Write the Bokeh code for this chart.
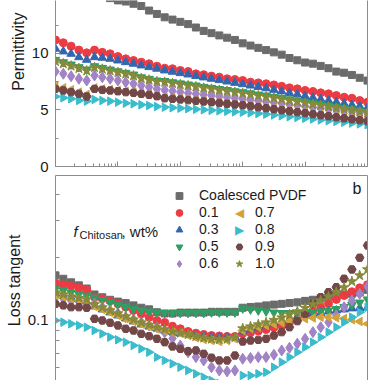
import numpy as np
from bokeh.plotting import figure
from bokeh.layouts import column
from bokeh.models import (FixedTicker, LinearAxis, LogAxis, Legend, LegendItem,
                          Label, Title, PrintfTickFormatter)
from bokeh.embed import file_html
from bokeh.resources import INLINE

FONT = "Liberation Sans"

# ---------------- data ----------------
freq_hz = [1.000e2, 1.334e2, 1.778e2, 2.371e2, 3.162e2, 4.217e2, 5.623e2, 7.499e2,
           1.000e3, 1.334e3, 1.778e3, 2.371e3, 3.162e3, 4.217e3, 5.623e3, 7.499e3,
           1.000e4, 1.334e4, 1.778e4, 2.371e4, 3.162e4, 4.217e4, 5.623e4, 7.499e4,
           1.000e5, 1.334e5, 1.778e5, 2.371e5, 3.162e5, 4.217e5, 5.623e5, 7.499e5,
           1.000e6, 1.334e6, 1.778e6, 2.371e6, 3.162e6, 4.217e6, 5.623e6, 7.499e6,
           1.000e7]

series_names = ["Coalesced PVDF", "0.1", "0.3", "0.5", "0.6", "0.7", "0.8", "0.9", "1.0"]

# permittivity (top panel)
eps_pvdf = [17.5, 17.0, 16.6, 16.2, 15.8, 15.5, 15.2, 14.9, 14.7, 14.6, 14.4, 14.2, 13.8, 13.5,
            13.2, 13.0, 12.8, 12.6, 12.3, 12.0, 11.8, 11.6, 11.4, 11.2, 10.9, 10.7, 10.5, 10.3,
            10.1, 9.9, 9.6, 9.4, 9.2, 9.1, 8.9, 8.7, 8.4, 8.3, 8.1, 7.85, 7.6]
eps_01 = [11.2, 10.95, 10.65, 10.3, 10.06, 10.3, 10.1, 9.97, 9.73, 9.53, 9.38, 9.23, 9.09, 8.88,
          8.7, 8.65, 8.5, 8.41, 8.2, 8.12, 8.0, 7.9, 7.76, 7.7, 7.61, 7.46, 7.4, 7.32, 7.22,
          7.1, 6.96, 6.87, 6.73, 6.64, 6.52, 6.43, 6.28, 6.13, 6.04, 5.84, 5.69]
eps_03 = [10.42, 10.18, 9.97, 9.67, 9.44, 9.67, 9.62, 9.53, 9.38, 9.23, 9.09, 8.94, 8.79, 8.65,
          8.5, 8.38, 8.26, 8.14, 8.0, 7.88, 7.76, 7.64, 7.52, 7.4, 7.28, 7.16, 7.04, 6.92,
          6.78, 6.64, 6.5, 6.37, 6.23, 6.09, 5.95, 5.83, 5.7, 5.57, 5.45, 5.33, 5.2]
eps_05 = [9.44, 9.23, 9.03, 8.79, 8.58, 8.88, 8.73, 8.58, 8.43, 8.29, 8.14, 7.9, 7.76, 7.61,
          7.57, 7.46, 7.36, 7.26, 7.17, 7.05, 6.96, 6.86, 6.77, 6.66, 6.58, 6.48, 6.37, 6.28,
          6.17, 6.06, 5.95, 5.84, 5.73, 5.62, 5.51, 5.4, 5.28, 5.18, 5.06, 4.96, 4.84]
eps_06 = [8.41, 8.21, 7.99, 7.76, 7.61, 8.05, 7.9, 7.76, 7.61, 7.46, 7.32, 7.17, 7.02, 6.87,
          6.77, 6.68, 6.59, 6.5, 6.43, 6.35, 6.28, 6.19, 6.11, 6.03, 5.96, 5.88, 5.81, 5.73,
          5.66, 5.58, 5.49, 5.4, 5.33, 5.25, 5.18, 5.11, 5.03, 4.96, 4.87, 4.78, 4.69]
eps_07 = [7.17, 6.96, 6.79, 6.58, 6.37, 6.95, 6.86, 6.81, 6.74, 6.66, 6.6, 6.51, 6.42, 6.3,
          6.12, 6.07, 6.01, 5.95, 5.89, 5.83, 5.77, 5.7, 5.63, 5.57, 5.5, 5.42, 5.33, 5.24,
          5.15, 5.06, 4.97, 4.89, 4.8, 4.71, 4.62, 4.53, 4.44, 4.35, 4.27, 4.18, 4.09]
eps_08 = [6.19, 6.08, 5.99, 5.84, 5.78, 5.93, 5.84, 5.78, 5.69, 5.6, 5.55, 5.46, 5.4, 5.31,
          5.25, 5.2, 5.16, 5.12, 5.06, 5.02, 4.97, 4.93, 4.88, 4.84, 4.8, 4.75, 4.69, 4.63,
          4.56, 4.49, 4.41, 4.34, 4.27, 4.2, 4.12, 4.05, 3.98, 3.91, 3.84, 3.77, 3.7]
eps_09 = [6.87, 6.73, 6.58, 6.43, 6.19, 6.87, 6.78, 6.73, 6.66, 6.58, 6.52, 6.43, 6.34, 6.22,
          6.04, 5.99, 5.93, 5.87, 5.81, 5.75, 5.69, 5.62, 5.55, 5.49, 5.42, 5.34, 5.25, 5.16,
          5.07, 4.98, 4.89, 4.81, 4.72, 4.63, 4.54, 4.45, 4.36, 4.27, 4.19, 4.1, 4.01]
eps_10 = [9.3, 9.1, 8.9, 8.68, 8.47, 8.76, 8.62, 8.47, 8.32, 8.18, 8.03, 7.8, 7.66, 7.51,
          7.46, 7.35, 7.25, 7.15, 7.06, 6.94, 6.85, 6.75, 6.66, 6.56, 6.47, 6.37, 6.26, 6.17,
          6.06, 5.95, 5.84, 5.73, 5.62, 5.51, 5.4, 5.29, 5.17, 5.07, 4.95, 4.85, 4.73]

# loss tangent (bottom panel)
tan_pvdf = [0.164, 0.158, 0.152, 0.147, 0.142, 0.133, 0.129, 0.1255, 0.123, 0.121, 0.118, 0.115,
            0.113, 0.1095, 0.108, 0.108, 0.109, 0.109, 0.109, 0.109, 0.11, 0.11, 0.11, 0.11,
            0.115, 0.116, 0.1166, 0.118, 0.119, 0.12, 0.121, 0.122, 0.124, 0.1255, 0.128,
            0.129, 0.1305, 0.133, 0.134, 0.136, 0.14]
tan_01 = [0.1505, 0.148, 0.146, 0.143, 0.1405, 0.129, 0.127, 0.124, 0.12, 0.1157, 0.1116,
          0.1076, 0.1037, 0.1, 0.0978, 0.0939, 0.0913, 0.0886, 0.087, 0.0858, 0.0848, 0.0844,
          0.0839, 0.0839, 0.0867, 0.0877, 0.0891, 0.0906, 0.0926, 0.0947, 0.0978, 0.101,
          0.1056, 0.1104, 0.1153, 0.1205, 0.126, 0.1315, 0.137, 0.143, 0.148]
tan_03 = [0.1345, 0.1315, 0.1287, 0.126, 0.123, 0.1166, 0.1128, 0.1092, 0.1056, 0.1022,
          0.0989, 0.0957, 0.0936, 0.0916, 0.0896, 0.0882, 0.0867, 0.0858, 0.0848, 0.0839,
          0.0834, 0.083, 0.083, 0.083, 0.0886, 0.0906, 0.0926, 0.0947, 0.0968, 0.0989, 0.101,
          0.1033, 0.105, 0.1068, 0.1086, 0.1104, 0.1116, 0.1128, 0.1141, 0.1147, 0.1153]
tan_05 = [0.1416, 0.1389, 0.1359, 0.1337, 0.1315, 0.1287, 0.1252, 0.1218, 0.1185, 0.116,
          0.1134, 0.1116, 0.1104, 0.1092, 0.1086, 0.1086, 0.1086, 0.1086, 0.1086, 0.1086,
          0.1092, 0.1092, 0.1092, 0.1092, 0.1141, 0.1128, 0.1116, 0.1104, 0.1092, 0.1086,
          0.1086, 0.1086, 0.1092, 0.1098, 0.1104, 0.1116, 0.1134, 0.116, 0.1185, 0.1218, 0.126]
tan_06 = [0.130, 0.1273, 0.1245, 0.123, 0.1205, 0.1205, 0.1157, 0.1116, 0.108, 0.1037, 0.101,
          0.0978, 0.0947, 0.0929, 0.0877, 0.0821, 0.076, 0.0706, 0.0669, 0.0645, 0.0599,
          0.0578, 0.0572, 0.0578, 0.0657, 0.0663, 0.0669, 0.0669, 0.0687, 0.072, 0.0741,
          0.0775, 0.0818, 0.088, 0.0929, 0.0981, 0.1056, 0.1157, 0.1245, 0.134, 0.145]
tan_07 = [0.1315, 0.1294, 0.1273, 0.1252, 0.123, 0.1166, 0.1128, 0.1092, 0.1056, 0.1022,
          0.0989, 0.0962, 0.0936, 0.0911, 0.0891, 0.088, 0.087, 0.0848, 0.0827, 0.0812,
          0.0803, 0.0794, 0.0803, 0.0818, 0.0896, 0.0916, 0.0929, 0.0947, 0.0962, 0.0978,
          0.0994, 0.1, 0.1019, 0.1028, 0.1037, 0.1037, 0.103, 0.1022, 0.1008, 0.0989, 0.0964]
tan_08 = [0.1, 0.0981, 0.0964, 0.0947, 0.0929, 0.0896, 0.0864, 0.0833, 0.0809, 0.0788, 0.076,
          0.0733, 0.0706, 0.0669, 0.0645, 0.0622, 0.0599, 0.0578, 0.0557, 0.0537, 0.0518,
          0.0501, 0.049, 0.0485, 0.0547, 0.0547, 0.0557, 0.0567, 0.0599, 0.0633, 0.0669,
          0.0706, 0.0746, 0.0788, 0.0833, 0.088, 0.0929, 0.0981, 0.1037, 0.1095, 0.1157]
tan_09 = [0.120, 0.118, 0.1157, 0.1157, 0.1149, 0.1019, 0.1, 0.0975, 0.0947, 0.0913, 0.0896,
          0.0864, 0.0842, 0.0818, 0.0788, 0.0752, 0.0733, 0.0714, 0.072, 0.0694, 0.0665,
          0.0645, 0.0645, 0.0681, 0.0794, 0.0803, 0.0809, 0.0818, 0.0848, 0.088, 0.0929,
          0.0993, 0.1076, 0.120, 0.129, 0.1364, 0.1441, 0.158, 0.175, 0.199, 0.2276]
tan_10 = [0.1359, 0.133, 0.130, 0.128, 0.126, 0.1192, 0.1153, 0.1116, 0.108, 0.1045, 0.101,
          0.0978, 0.0952, 0.0926, 0.0906, 0.0886, 0.0872, 0.0858, 0.0839, 0.0826, 0.0816,
          0.0812, 0.0816, 0.083, 0.0916, 0.0936, 0.0957, 0.0978, 0.1005, 0.1033, 0.1068,
          0.1104, 0.1147, 0.1192, 0.1245, 0.130, 0.1364, 0.1436, 0.1534, 0.1638, 0.175]

eps_all = [eps_pvdf, eps_01, eps_03, eps_05, eps_06, eps_07, eps_08, eps_09, eps_10]
tan_all = [tan_pvdf, tan_01, tan_03, tan_05, tan_06, tan_07, tan_08, tan_09, tan_10]

x_major = [1e2, 1e3, 1e4, 1e5, 1e6, 1e7]
x_minor = [m * d for d in [1e2, 1e3, 1e4, 1e5, 1e6] for m in range(2, 10)]
eps_ticks = [0, 5, 10]
eps_minor = [2.5, 7.5, 12.5]
tan_ticks = [0.1]
tan_minor = [0.06, 0.07, 0.08, 0.09, 0.2, 0.3, 0.4]

# ---------------- styles ----------------
colors = ["#6b6b6b", "#ec3b43", "#3466ae", "#2f9e63", "#a183c6",
          "#d2a33a", "#39bccb", "#734747", "#878a3a"]
markers = ["square", "circle", "triangle", "inverted_triangle", "diamond",
           "triangle", "triangle", "hex", "star"]
angles = [0, 0, 0, 0, 0, np.pi / 2, -np.pi / 2, 0, 0]
sizes = [7, 8, 8.5, 8.5, 11, 8.5, 8.5, 8.5, 10.5]
# legend symbols for the sideways triangles (legend glyphs ignore marker angle)
side_symbols = {5: "\u25C0", 6: "\u25B6"}

AX = "#8c8c8c"
TXT = "#1a1a1a"


def style_axis(ax, major_in=5, minor_in=3, labels=True):
    ax.axis_line_color = AX
    ax.major_tick_line_color = AX
    ax.minor_tick_line_color = AX
    ax.major_tick_in = major_in
    ax.major_tick_out = 0
    ax.minor_tick_in = minor_in
    ax.minor_tick_out = 0
    ax.major_label_text_font = FONT
    ax.major_label_text_color = TXT
    if labels:
        ax.major_label_text_font_size = "15px"
        ax.major_label_standoff = 7
    else:
        ax.major_label_text_font_size = "1px"
        ax.major_label_text_color = None
        ax.major_label_standoff = 0


def line_only(ax):
    ax.ticker = FixedTicker(ticks=[], minor_ticks=[])
    ax.axis_line_color = AX
    ax.major_tick_line_color = None
    ax.minor_tick_line_color = None
    ax.major_tick_out = 0
    ax.major_tick_in = 0
    ax.minor_tick_out = 0
    ax.minor_tick_in = 0
    ax.major_label_standoff = 0


def side_title(text, offset):
    return Title(text=text, align="right", offset=offset, standoff=4,
                 text_font=FONT, text_font_size="16px", text_font_style="normal",
                 text_color=TXT)


# ---------------- top panel: permittivity ----------------
p1 = figure(width=380, height=175, x_axis_type="log", x_range=(1e2, 1e7),
            y_range=(0, 14.69), output_backend="svg", toolbar_location=None,
            min_border_left=55, min_border_right=13, min_border_top=0, min_border_bottom=9)
p1.outline_line_color = None
p1.grid.visible = False

p1.xaxis.ticker = FixedTicker(ticks=x_major, minor_ticks=x_minor)
style_axis(p1.xaxis[0], labels=False)
p1.yaxis.ticker = FixedTicker(ticks=eps_ticks, minor_ticks=eps_minor)
style_axis(p1.yaxis[0], major_in=5, minor_in=3)
r1 = LinearAxis()
line_only(r1)
p1.add_layout(r1, "right")
p1.add_layout(side_title("Permittivity", 12), "left")

for ys, c, m, a, s in zip(eps_all, colors, markers, angles, sizes):
    p1.scatter(freq_hz, ys, marker=m, angle=a, size=s, fill_color=c, line_color=c)

# ---------------- bottom panel: loss tangent ----------------
p2 = figure(width=380, height=205, x_axis_type="log", y_axis_type="log",
            x_range=p1.x_range, y_range=(0.05178, 0.4903), output_backend="svg",
            toolbar_location=None, min_border_left=55, min_border_right=13,
            min_border_top=0, min_border_bottom=0)
p2.outline_line_color = None
p2.grid.visible = False
p2.xaxis.visible = False
p2.yaxis.ticker = FixedTicker(ticks=tan_ticks, minor_ticks=tan_minor)
p2.yaxis.formatter = PrintfTickFormatter(format="%.1f")
style_axis(p2.yaxis[0], major_in=5, minor_in=4)
a2 = LogAxis()
line_only(a2)
p2.add_layout(a2, "above")
r2 = LogAxis()
line_only(r2)
p2.add_layout(r2, "right")
p2.add_layout(side_title("Loss tangent", 59), "left")

rends = []
for ys, c, m, a, s in zip(tan_all, colors, markers, angles, sizes):
    rends.append(p2.scatter(freq_hz, ys, marker=m, angle=a, size=s, fill_color=c, line_color=c))

# invisible stand-in renderer for legend rows whose symbol is drawn as text
blank = p2.scatter(x=[], y=[], marker="circle", size=1, fill_alpha=0, line_alpha=0)

legend_common = dict(padding=0, margin=0, spacing=0, border_line_color=None,
                     background_fill_alpha=0, glyph_width=18, glyph_height=17,
                     label_height=17, label_text_font=FONT, label_text_font_size="14px",
                     label_text_color=TXT)
col1 = [0, 1, 2, 3, 4]
col2 = [5, 6, 7, 8]


def item(i):
    r = blank if i in side_symbols else rends[i]
    return LegendItem(label=series_names[i], renderers=[r])


leg1 = Legend(items=[item(i) for i in col1], location=(115, 108.5), label_standoff=11,
              **legend_common)
leg2 = Legend(items=[item(i) for i in col2], location=(175, 108.5), label_standoff=7,
              **legend_common)
p2.add_layout(leg1, "center")
p2.add_layout(leg2, "center")

# sideways-triangle legend symbols (rows 1 and 2 of the second legend column)
for row, i in enumerate(col2):
    if i in side_symbols:
        p2.add_layout(Label(x=184, y=168 - 17 * row, x_units="screen", y_units="screen",
                            text=side_symbols[i], text_font="DejaVu Sans",
                            text_font_size="12px", text_color=colors[i],
                            text_align="center", text_baseline="middle"))

p2.add_layout(Label(x=18, y=149, x_units="screen", y_units="screen", text="f",
                    text_font=FONT, text_font_style="italic", text_font_size="15px",
                    text_color=TXT, text_baseline="alphabetic"))
p2.add_layout(Label(x=24, y=146, x_units="screen", y_units="screen", text="Chitosan",
                    text_font=FONT, text_font_size="11px", text_color=TXT,
                    text_baseline="alphabetic"))
p2.add_layout(Label(x=66, y=149, x_units="screen", y_units="screen", text=", wt%",
                    text_font=FONT, text_font_size="15px", text_color=TXT,
                    text_baseline="alphabetic"))
p2.add_layout(Label(x=297, y=192, x_units="screen", y_units="screen", text="b",
                    text_font=FONT, text_font_size="16px", text_color=TXT,
                    text_baseline="alphabetic"))

layout = column(p1, p2, spacing=0)
open("out.html", "w").write(file_html(layout, INLINE))
